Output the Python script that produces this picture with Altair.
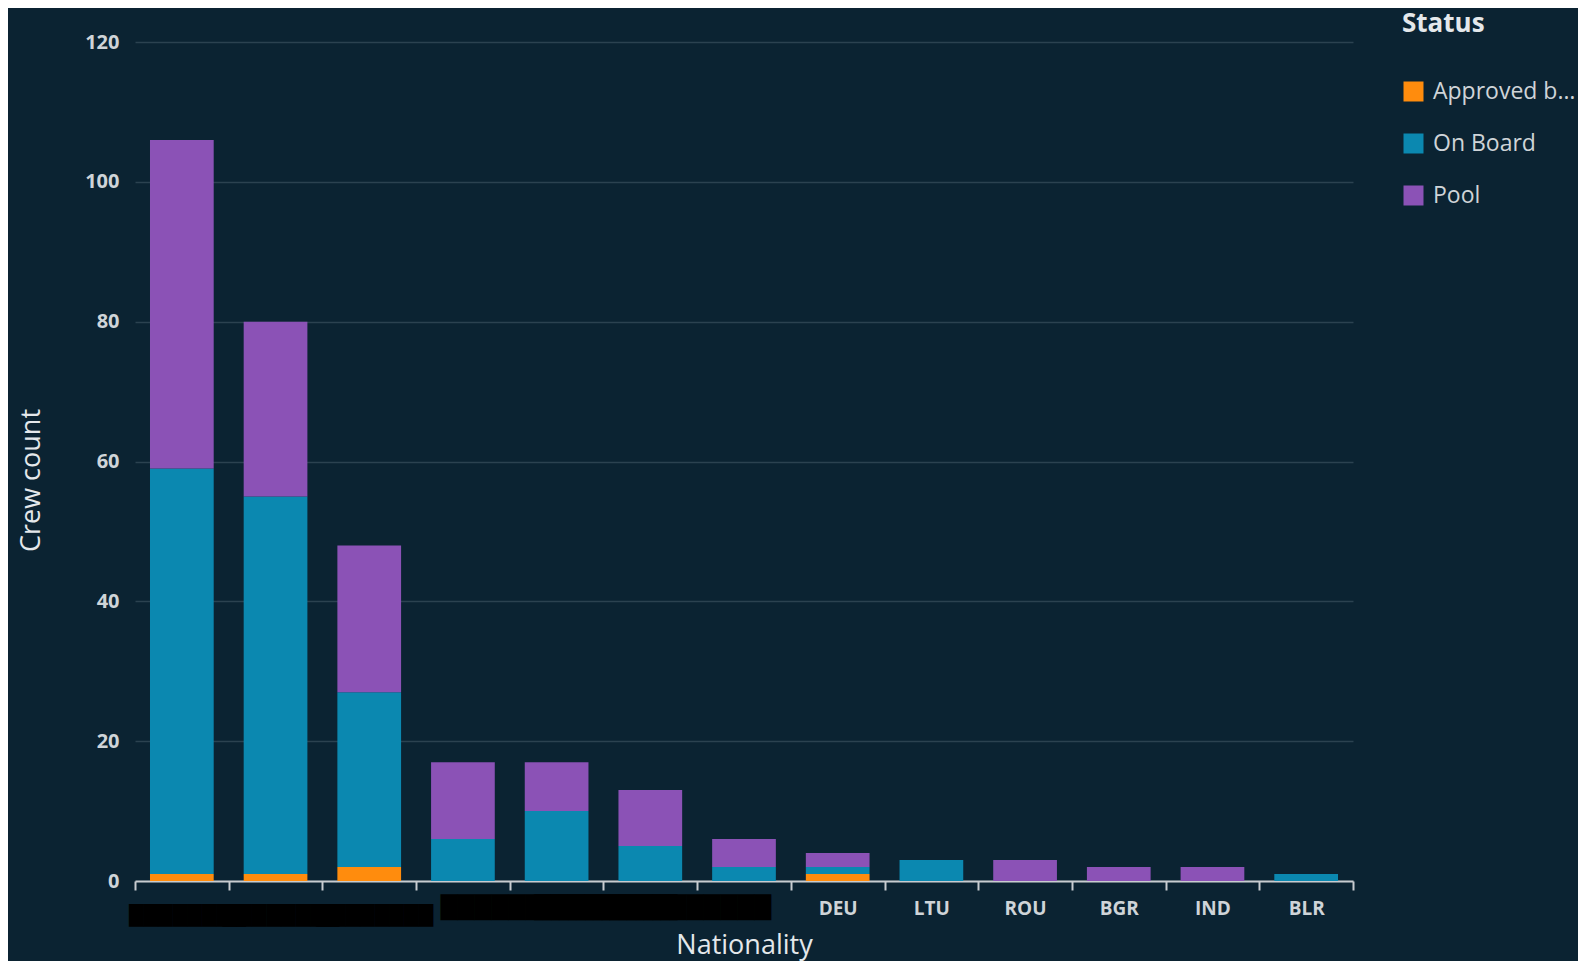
import altair as alt
import pandas as pd

# ---- data ----
nationalities = ["PHL", "MMR", "UKR", "[redacted 1]", "[redacted 2]", "[redacted 3]",
                 "[redacted 4]", "DEU", "LTU", "ROU", "BGR", "IND", "BLR"]
statuses = ["Approved by Client", "On Board", "Pool"]
approved = [1, 1, 2, 0, 0, 0, 0, 1, 0, 0, 0, 0, 0]
on_board = [58, 54, 25, 6, 10, 5, 2, 1, 3, 0, 0, 0, 1]
pool = [47, 25, 21, 11, 7, 8, 4, 2, 0, 3, 2, 2, 0]
y_ticks = [0, 20, 40, 60, 80, 100, 120]

# labels hidden by black redaction boxes in the reference
redacted_low = ["PHL", "MMR", "UKR"]
redacted_high = ["[redacted 2]", "[redacted 3]"]
redacted_blank = ["[redacted 1]", "[redacted 4]"]

rows = []
for i, nat in enumerate(nationalities):
    for status, vals in zip(statuses, [approved, on_board, pool]):
        if vals[i] > 0:
            rows.append({"Nationality": nat, "Status": status, "Crew count": vals[i]})
df = pd.DataFrame(rows)

BG = "#0b2332"
LABEL = "#cfd4d8"
TITLE = "#e4e8eb"
FONT = "Open Sans"


def in_list(names):
    return "indexof([" + ",".join("'%s'" % s for s in names) + "], datum.value) >= 0"


test_low = in_list(redacted_low)
test_high = in_list(redacted_high)
test_blank = in_list(redacted_blank)
block_low = "\u2588" * 8
block_high = "\u2588" * 14
label_expr = "%s ? '%s' : (%s ? '%s' : (%s ? '' : datum.label))" % (
    test_low, block_low, test_high, block_high, test_blank)

x_axis = alt.Axis(
    labelAngle=0,
    labelExpr=label_expr,
    labelLimit=600,
    labelFont={"condition": [{"test": test_low, "value": "DejaVu Sans"},
                             {"test": test_high, "value": "DejaVu Sans"}],
               "value": FONT},
    labelFontSize={"condition": [{"test": test_low, "value": 19},
                                 {"test": test_high, "value": 22}],
                   "value": 19},
    labelPadding={"condition": [{"test": test_low, "value": 16},
                                {"test": test_high, "value": 7}],
                  "value": 9},
    labelOffset={"condition": [{"test": test_low, "value": 5},
                               {"test": test_high, "value": 2}],
                 "value": 0},
    labelColor={"condition": [{"test": test_low, "value": "#000000"},
                              {"test": test_high, "value": "#000000"}],
                "value": LABEL},
    labelFontWeight="bold",
    tickBand="extent",
    tickSize=9,
    tickWidth=2,
    tickColor="#c8ccd0",
    domainColor="#c8ccd0",
    domainWidth=2,
    grid=False,
    title="Nationality",
    titleFont=FONT,
    titleFontSize=27,
    titleFontWeight="normal",
    titleColor=TITLE,
    titlePadding=7,
)

y_axis = alt.Axis(
    values=y_ticks,
    labelFont=FONT,
    labelFontSize=20,
    labelFontWeight="bold",
    labelColor=LABEL,
    labelPadding=16,
    ticks=False,
    domain=False,
    gridColor="#2b4250",
    gridWidth=1.5,
    title="Crew count",
    titleFont=FONT,
    titleFontSize=27,
    titleFontWeight="normal",
    titleColor=TITLE,
    titlePadding=39,
    titleY=438,
)

chart = alt.Chart(df).mark_bar(width=alt.RelativeBandSize(0.68)).encode(
    x=alt.X("Nationality:N", sort=nationalities,
            scale=alt.Scale(paddingInner=0, paddingOuter=0),
            axis=x_axis),
    y=alt.Y("sum(Crew count):Q", stack="zero",
            scale=alt.Scale(domain=[0, 120], nice=False),
            axis=y_axis),
    color=alt.Color("Status:N",
                    scale=alt.Scale(domain=statuses,
                                    range=["#ff8c0d", "#0b88b0", "#8b52b6"]),
                    legend=alt.Legend(
                        orient="none", legendX=1267, legendY=-31,
                        title="Status", titleFont=FONT, titleFontSize=26,
                        titleFontWeight="bold", titleColor=TITLE,
                        titlePadding=43,
                        labelFont=FONT, labelFontSize=23, labelColor=LABEL,
                        labelLimit=146, labelOffset=8,
                        symbolType="square", symbolSize=400,
                        symbolStrokeWidth=0, rowPadding=28,
                    )),
    order=alt.Order("Status:N", sort="ascending"),
).properties(
    width=1218,
    height=839,
    autosize=alt.AutoSizeParams(type="none"),
    padding={"left": 127, "top": 34, "right": 225, "bottom": 80},
    background=BG,
).configure_view(stroke=None)

chart.save("out.html", embed_options={"renderer": "svg", "actions": False})
